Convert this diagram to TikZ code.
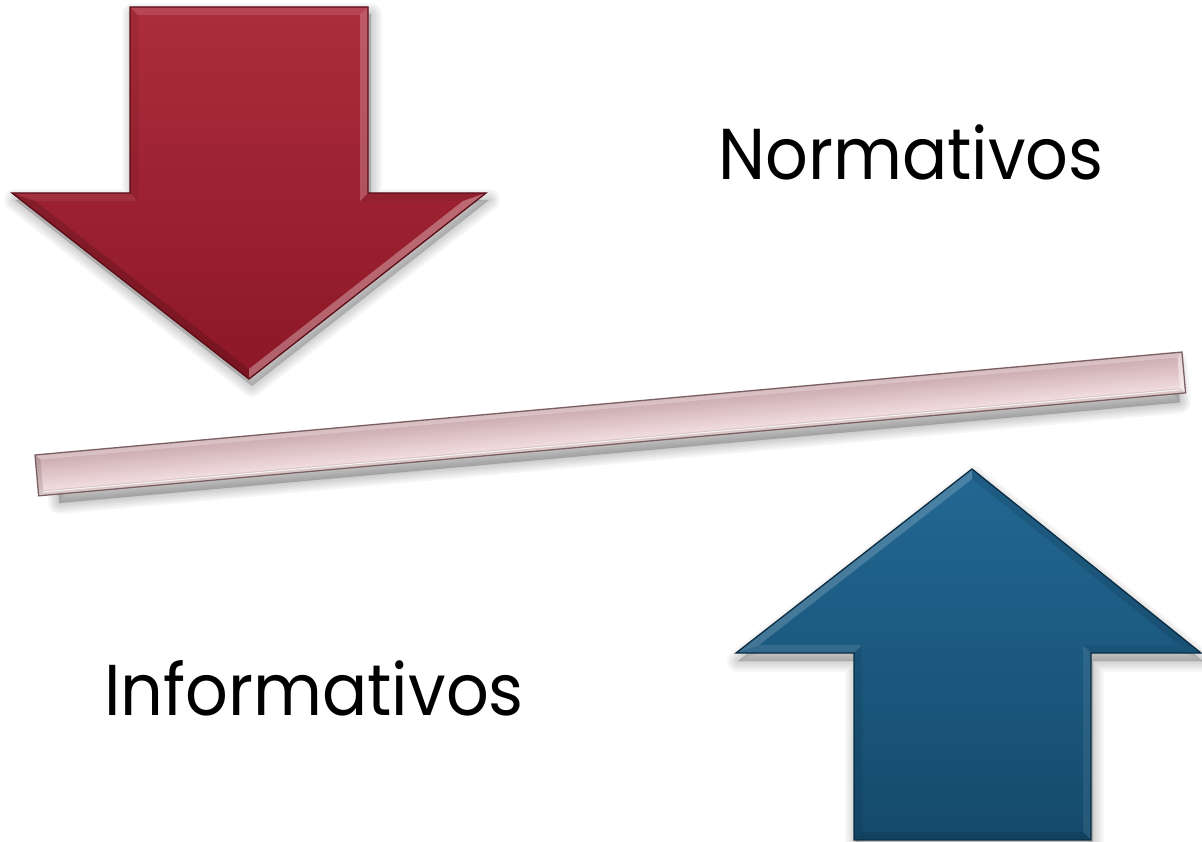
\documentclass[tikz,border=0pt]{standalone}
\usepackage{fontspec}
\setmainfont{Poppins}
\begin{document}
\begin{tikzpicture}[x=1pt,y=-1pt,
  outl/.style={line width=1.3pt, line join=miter},
  hi/.style={fill=white, fill opacity=#1},
  lo/.style={fill=black, fill opacity=#1},
  lbl/.style={font=\fontsize{72}{80}\selectfont, text=black, anchor=base, inner sep=0pt}]
\definecolor{redtop}{HTML}{AC2D3C}
\definecolor{redbot}{HTML}{8C1726}
\definecolor{redline}{HTML}{5A0C16}
\definecolor{bluetop}{HTML}{236893}
\definecolor{bluebot}{HTML}{144A6C}
\definecolor{blueline}{HTML}{0A2C42}
\definecolor{bartop}{HTML}{C9A8AD}
\definecolor{barmid}{HTML}{E6CBCF}
\definecolor{barbot}{HTML}{F7E4E6}
\definecolor{barline}{HTML}{7C5F63}
\useasboundingbox (0,0) rectangle (1202,842);
\fill[white] (0,0) rectangle (1202,842);

% ---------- soft shadows ----------
\foreach \w in {22,18,14,10,6,2}{
  \filldraw[black, opacity=0.03, line width=\w pt, line join=round, shift={(3,7)}]
    (130,7) -- (368,7) -- (368,193) -- (486,193) -- (249,379) -- (12,193) -- (130,193) -- cycle;
  \filldraw[black, opacity=0.03, line width=\w pt, line join=round, shift={(2,8)}]
    (972,469) -- (1201,653) -- (1091,653) -- (1091,840) -- (854,840) -- (854,653) -- (736,653) -- cycle;
}
\begin{scope}[transform canvas={shift={(35,455)},rotate=5.13}]
\foreach \w in {22,18,14,10,6,2}{
  \filldraw[black, opacity=0.035, line width=\w pt, line join=round] (20,10) rectangle (1145,50);
}
\end{scope}

% ---------- red arrow (down) ----------
\shade[top color=redtop, bottom color=redbot]
  (130,7) -- (368,7) -- (368,193) -- (486,193) -- (249,379) -- (12,193) -- (130,193) -- cycle;
\fill[hi=0.12] (130,7) -- (368,7) -- (360,15) -- (138,15) -- cycle;
\fill[hi=0.22] (368,7) -- (368,193) -- (360,201) -- (360,15) -- cycle;
\fill[lo=0.06] (368,193) -- (486,193) -- (463,201) -- (360,201) -- cycle;
\fill[hi=0.32] (486,193) -- (249,379) -- (249,369) -- (463,201) -- cycle;
\fill[lo=0.14] (249,379) -- (12,193) -- (35,201) -- (249,369) -- cycle;
\fill[hi=0.06] (12,193) -- (130,193) -- (138,201) -- (35,201) -- cycle;
\fill[lo=0.06] (130,193) -- (130,7) -- (138,15) -- (138,201) -- cycle;
\draw[redline, outl]
  (130,7) -- (368,7) -- (368,193) -- (486,193) -- (249,379) -- (12,193) -- (130,193) -- cycle;

% ---------- bar ----------
\begin{scope}[transform canvas={shift={(35,455)},rotate=5.13}]
\shade[top color=bartop, middle color=barmid, bottom color=barbot] (0,0) rectangle (1151.6,41);
\fill[hi=0.25] (0,0) -- (1151.6,0) -- (1146.6,5) -- (5,5) -- cycle;
\fill[hi=0.45] (1151.6,0) -- (1151.6,41) -- (1146.6,36) -- (1146.6,5) -- cycle;
\fill[lo=0.10] (1151.6,41) -- (0,41) -- (5,36) -- (1146.6,36) -- cycle;
\fill[lo=0.12] (0,41) -- (0,0) -- (5,5) -- (5,36) -- cycle;
\draw[white, line width=1pt, opacity=0.8] (5,37.5) -- (1146.6,37.5);
\draw[barline, line width=1.3pt] (0,0) rectangle (1151.6,41);
\end{scope}

% ---------- blue arrow (up) ----------
\shade[top color=bluetop, bottom color=bluebot]
  (972,469) -- (1201,653) -- (1091,653) -- (1091,840) -- (854,840) -- (854,653) -- (736,653) -- cycle;
\fill[lo=0.10] (972,469) -- (1201,653) -- (1179,645) -- (972,479) -- cycle;
\fill[lo=0.06] (1201,653) -- (1091,653) -- (1083,645) -- (1179,645) -- cycle;
\fill[hi=0.08] (1091,653) -- (1091,840) -- (1083,832) -- (1083,645) -- cycle;
\fill[lo=0.12] (1091,840) -- (854,840) -- (862,832) -- (1083,832) -- cycle;
\fill[lo=0.08] (854,840) -- (854,653) -- (862,645) -- (862,832) -- cycle;
\fill[hi=0.10] (854,653) -- (736,653) -- (759,645) -- (862,645) -- cycle;
\fill[hi=0.18] (736,653) -- (972,469) -- (972,479) -- (759,645) -- cycle;
\draw[blueline, outl]
  (972,469) -- (1201,653) -- (1091,653) -- (1091,840) -- (854,840) -- (854,653) -- (736,653) -- cycle;

% ---------- labels ----------
\node[lbl] (norm) at (911,180) {\scalebox{0.93}[1]{Normativos}};
\node[lbl] (info) at (314,715) {\scalebox{0.93}[1]{Informativos}};
\end{tikzpicture}
\end{document}
